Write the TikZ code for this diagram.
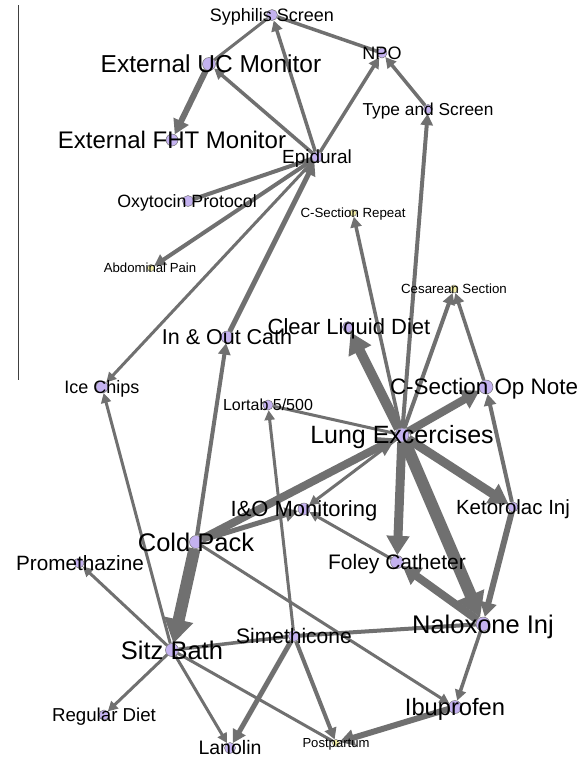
\documentclass[tikz,border=0pt]{standalone}
\usepackage{fontspec}
\setmainfont{Liberation Sans}
\usetikzlibrary{arrows.meta,backgrounds}
\definecolor{nodeP}{HTML}{C4B2F0}
\definecolor{nodeY}{HTML}{F4F0A8}
\definecolor{edgeC}{HTML}{707070}
\tikzset{
  dot/.style={circle, inner sep=0pt, minimum size=#1, fill=nodeP, draw=black!55, line width=0.5pt},
  ydot/.style={circle, inner sep=0pt, minimum size=#1, fill=nodeY, draw=black!55, line width=0.5pt},
  lbl/.style={anchor=base, inner sep=0pt, font=\fontsize{#1pt}{#1pt}\selectfont, yshift=-0.355*#1pt},
  e/.style={draw=edgeC, line cap=butt},
  ar/.style={-{Triangle[length=5pt 1.6, width=4pt 2.0]}},
}
\begin{document}
\begin{tikzpicture}[x=1pt,y=-1pt]
\useasboundingbox (0,0) rectangle (587,761);
% left rule
\coordinate (r1) at (18,5);
\coordinate (r2) at (18,380);
\draw[black!75, line width=0.8pt] (r1) -- (r2);
% node circles
\node[dot=11pt] (syph) at (272,15) {};
\node[dot=10pt] (npo) at (382,53) {};
\node[dot=13pt] (ucm) at (209,64) {};
\node[dot=9pt] (type) at (428,109) {};
\node[dot=12pt] (fht) at (172,140) {};
\node[dot=11pt] (epi) at (317,157) {};
\node[dot=11pt] (oxy) at (188,201) {};
\node[ydot=7pt] (csr) at (353,213) {};
\node[ydot=7pt] (abd) at (151,268) {};
\node[ydot=8pt] (ces) at (454,289) {};
\node[dot=11pt] (cld) at (348,327) {};
\node[dot=12pt] (ioc) at (227,337) {};
\node[dot=14pt] (opn) at (486,387) {};
\node[dot=12pt] (ice) at (102,387) {};
\node[dot=10pt] (lor) at (268,405) {};
\node[dot=14pt] (lung) at (402,435) {};
\node[dot=12pt] (iom) at (304,509) {};
\node[dot=10pt] (ket) at (513,507) {};
\node[dot=13pt] (cold) at (196,542) {};
\node[dot=13pt] (foley) at (397,562) {};
\node[dot=10pt] (prom) at (79,563) {};
\node[dot=14pt] (nal) at (483,624) {};
\node[dot=11pt] (sim) at (294,636) {};
\node[dot=13pt] (sitz) at (172,650) {};
\node[dot=10pt] (reg) at (104,715) {};
\node[dot=13pt] (ibu) at (455,707) {};
\node[ydot=7pt] (post) at (336,743) {};
\node[dot=11pt] (lan) at (230,748) {};
% edges
\begin{pgfonlayer}{background}
\draw[e, line width=3.5pt] (syph) -- (npo);
\draw[e, line width=3pt] (syph) -- (ucm);
\draw[e, line width=6pt, ar] (ucm) -- (fht);
\draw[e, line width=3.5pt, ar] (epi) -- (ucm);
\draw[e, line width=3.5pt, ar] (epi) -- (syph);
\draw[e, line width=3.5pt, ar] (epi) -- (npo);
\draw[e, line width=3.5pt, ar] (type) -- (npo);
\draw[e, line width=4pt, ar] (lung) -- (type);
\draw[e, line width=4pt] (epi) -- (oxy);
\draw[e, line width=4pt, ar] (epi) -- (abd);
\draw[e, line width=3pt, ar] (epi) -- (ice);
\draw[e, line width=5pt, ar] (ioc) -- (epi);
\draw[e, line width=4pt, ar] (cold) -- (ioc);
\draw[e, line width=3pt, ar] (sitz) -- (ice);
\draw[e, line width=3pt, ar] (sitz) -- (prom);
\draw[e, line width=3pt, ar] (sitz) -- (reg);
\draw[e, line width=3pt, ar] (sitz) -- (lan);
\draw[e, line width=3pt] (sitz) -- (post);
\draw[e, line width=3.5pt] (sim) -- (sitz);
\draw[e, line width=4pt] (nal) -- (sim);
\draw[e, line width=5pt, ar] (sim) -- (lan);
\draw[e, line width=4pt, ar] (sim) -- (post);
\draw[e, line width=3pt, ar] (sim) -- (lor);
\draw[e, line width=3pt] (lor) -- (lung);
\draw[e, line width=8pt, ar] (cold) -- (lung);
\draw[e, line width=5pt, ar] (cold) -- (iom);
\draw[e, line width=3pt, ar] (lung) -- (iom);
\draw[e, line width=3pt, ar] (foley) -- (iom);
\draw[e, line width=12pt, ar] (cold) -- (sitz);
\draw[e, line width=3pt, ar] (cold) -- (ibu);
\draw[e, line width=6pt, ar] (ibu) -- (post);
\draw[e, line width=3.5pt, ar] (nal) -- (ibu);
\draw[e, line width=8pt, ar] (nal) -- (foley);
\draw[e, line width=12pt, ar] (lung) -- (nal);
\draw[e, line width=6pt, ar] (ket) -- (nal);
\draw[e, line width=9pt, ar] (lung) -- (foley);
\draw[e, line width=9pt, ar] (lung) -- (ket);
\draw[e, line width=4pt, ar] (ket) -- (opn);
\draw[e, line width=8pt, ar] (lung) -- (opn);
\draw[e, line width=3.5pt, ar] (opn) -- (ces);
\draw[e, line width=4pt, ar] (lung) -- (ces);
\draw[e, line width=3.5pt, ar] (lung) -- (csr);
\draw[e, line width=10pt, ar] (lung) -- (cld);
\end{pgfonlayer}
% labels
\node[lbl=18] (t-syph) at (272,15) {Syphilis Screen};
\node[lbl=18] (t-npo) at (382,53) {NPO};
\node[lbl=24.5] (t-ucm) at (211,64) {External UC Monitor};
\node[lbl=17.3] (t-type) at (428,109) {Type and Screen};
\node[lbl=24] (t-fht) at (172,140) {External FHT Monitor};
\node[lbl=19] (t-epi) at (317,157) {Epidural};
\node[lbl=17.8] (t-oxy) at (187,201) {Oxytocin Protocol};
\node[lbl=13.3] (t-csr) at (353,213) {C-Section Repeat};
\node[lbl=13.2] (t-abd) at (150,268) {Abdominal Pain};
\node[lbl=13.3] (t-ces) at (454,289) {Cesarean Section};
\node[lbl=22] (t-cld) at (349,327) {Clear Liquid Diet};
\node[lbl=21.5] (t-ioc) at (227,337) {In \& Out Cath};
\node[lbl=22.4] (t-opn) at (484,387) {C-Section Op Note};
\node[lbl=18] (t-ice) at (102,387) {Ice Chips};
\node[lbl=16] (t-lor) at (268,405) {Lortab 5/500};
\node[lbl=25] (t-lung) at (402,435) {Lung Excercises};
\node[lbl=22] (t-iom) at (304,509) {I\&O Monitoring};
\node[lbl=20.5] (t-ket) at (513,507) {Ketorolac Inj};
\node[lbl=25.5] (t-cold) at (196,542) {Cold Pack};
\node[lbl=21] (t-foley) at (397,562) {Foley Catheter};
\node[lbl=20.7] (t-prom) at (80,563) {Promethazine};
\node[lbl=25.5] (t-nal) at (483,624) {Naloxone Inj};
\node[lbl=21] (t-sim) at (294,636) {Simethicone};
\node[lbl=25.5] (t-sitz) at (172,650) {Sitz Bath};
\node[lbl=18.7] (t-reg) at (104,715) {Regular Diet};
\node[lbl=23.7] (t-ibu) at (455,707) {Ibuprofen};
\node[lbl=13.1] (t-post) at (336,743) {Postpartum};
\node[lbl=19.5] (t-lan) at (230,748) {Lanolin};
\end{tikzpicture}
\end{document}
